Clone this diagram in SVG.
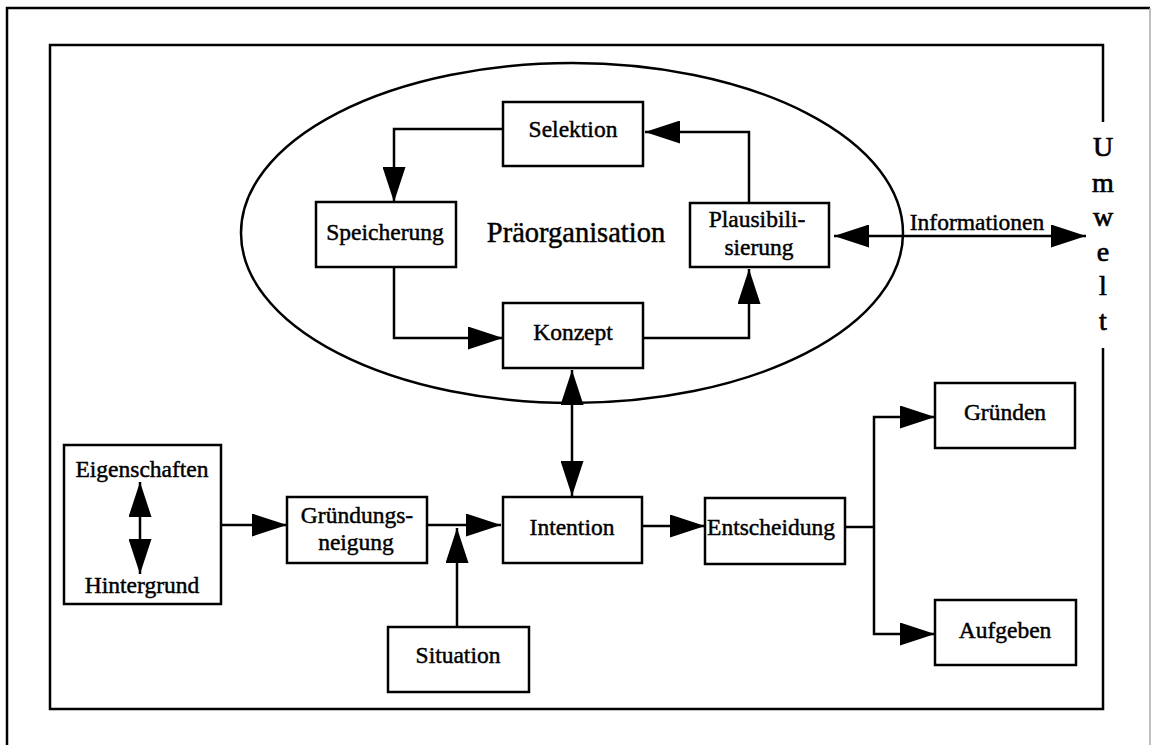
<svg xmlns="http://www.w3.org/2000/svg" width="1151" height="745" viewBox="0 0 1151 745">
  <defs>
    <marker id="ah" viewBox="0 0 35 23" refX="35" refY="11.5" markerWidth="35" markerHeight="23" markerUnits="userSpaceOnUse" orient="auto-start-reverse">
      <path d="M0,0 L35,11.5 L0,23 Z" fill="#000"/>
    </marker>
    <style>
      .box { fill: #fff; stroke: #000; stroke-width: 2.5; }
      .ln { fill: none; stroke: #000; stroke-width: 2.5; }
      .t { font-family: "Liberation Serif", "Times New Roman", serif; font-size: 23.5px; fill: #000; stroke: #000; stroke-width: 0.45; text-anchor: middle; }
      .big { font-size: 28.5px; }
      .env { font-size: 28px; stroke-width: 0.7; }
    </style>
  </defs>

  <rect x="0" y="0" width="1151" height="745" fill="#fff"/>

  <!-- page frame -->
  <g id="page-frame">
    <path class="ln" d="M7,760 V8 H1150"/>
    <path d="M1150,8 V760" fill="none" stroke="#aaa" stroke-width="1.5"/>
  </g>

  <!-- system boundary, opened on the right for the environment label -->
  <g id="umwelt">
    <path class="ln" d="M1103,122 V45 H50 V709 H1103 V348"/>
    <text class="t env" x="1103" y="156">U</text>
    <text class="t env" x="1103" y="192">m</text>
    <text class="t env" x="1103" y="226">w</text>
    <text class="t env" x="1103" y="261">e</text>
    <text class="t env" x="1103" y="295">l</text>
    <text class="t env" x="1103" y="330">t</text>
  </g>

  <!-- pre-organisation cycle -->
  <g id="praeorganisation">
    <ellipse class="ln" cx="572" cy="233" rx="331" ry="170"/>
    <text class="t big" x="576" y="242">Präorganisation</text>
  </g>

  <g id="selektion">
    <rect class="box" x="503" y="102" width="140" height="64"/>
    <text class="t" x="573" y="137">Selektion</text>
  </g>
  <g id="speicherung">
    <rect class="box" x="316" y="202" width="140" height="65"/>
    <text class="t" x="385" y="240">Speicherung</text>
  </g>
  <g id="plausibilisierung">
    <rect class="box" x="690" y="203" width="139" height="64"/>
    <text class="t" x="757" y="227">Plausibili-</text>
    <text class="t" x="759" y="255">sierung</text>
  </g>
  <g id="konzept">
    <rect class="box" x="503" y="303" width="140" height="65"/>
    <text class="t" x="573" y="340">Konzept</text>
  </g>

  <!-- decision chain -->
  <g id="eigenschaften-hintergrund">
    <rect class="box" x="64" y="445" width="157" height="159"/>
    <text class="t" x="142" y="477">Eigenschaften</text>
    <text class="t" x="142" y="593">Hintergrund</text>
  </g>
  <g id="gruendungsneigung">
    <rect class="box" x="287" y="497" width="140" height="66"/>
    <text class="t" x="357" y="523">Gründungs-</text>
    <text class="t" x="356" y="550">neigung</text>
  </g>
  <g id="situation">
    <rect class="box" x="388" y="627" width="141" height="65"/>
    <text class="t" x="458" y="663">Situation</text>
  </g>
  <g id="intention">
    <rect class="box" x="503" y="497" width="139" height="66"/>
    <text class="t" x="572" y="535">Intention</text>
  </g>
  <g id="entscheidung">
    <rect class="box" x="705" y="498" width="140" height="66"/>
    <text class="t" x="771" y="535">Entscheidung</text>
  </g>
  <g id="gruenden">
    <rect class="box" x="935" y="383" width="140" height="65"/>
    <text class="t" x="1005" y="420">Gründen</text>
  </g>
  <g id="aufgeben">
    <rect class="box" x="935" y="600" width="141" height="65"/>
    <text class="t" x="1005" y="638">Aufgeben</text>
  </g>

  <!-- connectors -->
  <g id="connectors">
    <path class="ln" d="M503,129 H394 V202" marker-end="url(#ah)"/>
    <path class="ln" d="M749,203 V132 H645" marker-end="url(#ah)"/>
    <path class="ln" d="M394,267 V338 H503" marker-end="url(#ah)"/>
    <path class="ln" d="M643,338 H749 V269" marker-end="url(#ah)"/>
    <path class="ln" d="M572,370 V496" marker-start="url(#ah)" marker-end="url(#ah)"/>
    <path class="ln" d="M834,236 H1086" marker-start="url(#ah)" marker-end="url(#ah)"/>
    <text class="t" x="977" y="230">Informationen</text>
    <path class="ln" d="M140,482 V574" marker-start="url(#ah)" marker-end="url(#ah)"/>
    <path class="ln" d="M221,525 H287" marker-end="url(#ah)"/>
    <path class="ln" d="M427,525 H501" marker-end="url(#ah)"/>
    <path class="ln" d="M457,627 V528" marker-end="url(#ah)"/>
    <path class="ln" d="M642,526 H705" marker-end="url(#ah)"/>
    <path class="ln" d="M845,527 H874"/>
    <path class="ln" d="M935,417 H874 V634 H935" marker-start="url(#ah)" marker-end="url(#ah)"/>
  </g>
</svg>
